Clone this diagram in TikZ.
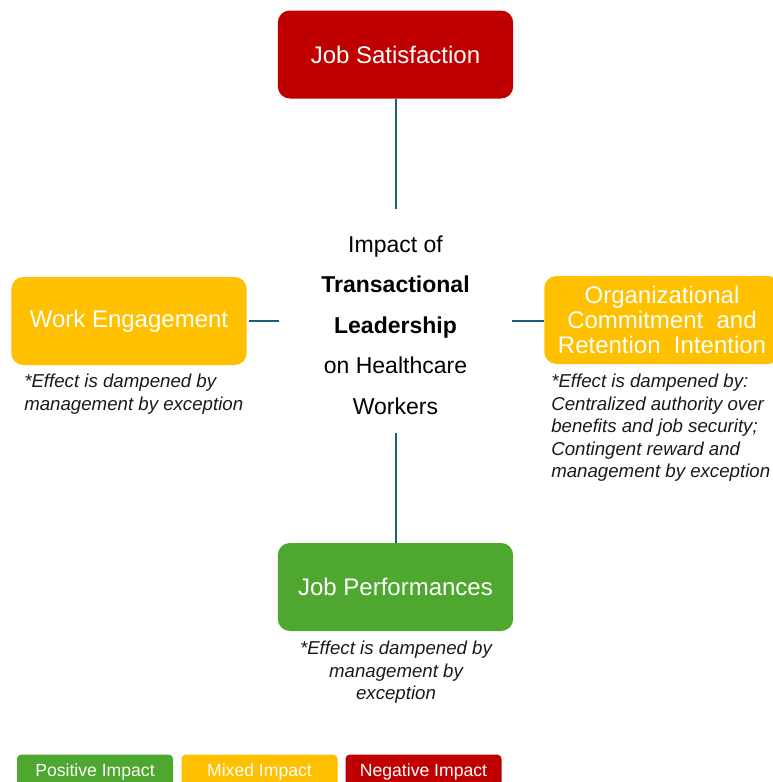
\documentclass[tikz,border=0pt]{standalone}
\usepackage{fontspec}
\setmainfont{Liberation Sans}
\definecolor{negred}{HTML}{C00000}
\definecolor{mixyellow}{HTML}{FFC000}
\definecolor{posgreen}{HTML}{4EA72E}
\definecolor{linkblue}{HTML}{1F5C7A}
\definecolor{notegray}{HTML}{1A1A1A}
\begin{document}
\begin{tikzpicture}[x=0.75pt,y=-0.75pt,
  box/.style={rounded corners=9pt, minimum width=176.5pt, minimum height=66pt,
    text=white, font=\fontsize{18}{19}\selectfont, align=center, inner sep=0pt},
  link/.style={draw=linkblue, line width=1.5pt},
  note/.style={font=\fontsize{14}{16.9}\selectfont\itshape, text=notegray, inner sep=0pt},
  legendbox/.style={rounded corners=3pt, minimum width=117pt, minimum height=26pt,
    text=white, font=\fontsize{13.2}{14}\selectfont, inner sep=0pt}]
\useasboundingbox (0,0) rectangle (773,782);
\clip (0,0) rectangle (773,782);

% outcome boxes
\node[box, fill=negred] (js) at (395.5,54.5) {Job Satisfaction};
\node[box, fill=mixyellow] (we) at (129,321) {Work Engagement};
\node[box, fill=mixyellow] (oc) at (662,320) {Organizational\\Commitment\ \ and\\Retention\ \ Intention};
\node[box, fill=posgreen] (jp) at (395.5,587) {Job Performances};

% central statement
\node[minimum width=174.75pt, minimum height=168pt, inner sep=0pt, align=center,
  font=\fontsize{17.25}{30.4}\selectfont] (hub) at (395.5,325)
  {Impact of\\\textbf{Transactional}\\\textbf{Leadership}\\on Healthcare\\Workers};

% connectors
\draw[link] (js.south) -- ([yshift=3pt]hub.north);
\draw[link] ([yshift=3pt]hub.south) -- (jp.north);
\draw[link] ([xshift=1.5pt]we.east) -- ([yshift=3pt]hub.west);
\draw[link] ([yshift=3pt]hub.east) -- (oc.west |- we.east);

% moderating notes
\node[note, anchor=north west, align=left] (wenote) at (24,374)
  {*Effect is dampened by\\management by exception};
\node[note, anchor=north west, align=left] (ocnote) at (551,374)
  {*Effect is dampened by:\\Centralized authority over\\benefits and job security;\\Contingent reward and\\management by exception};
\node[note, anchor=north, align=center] (jpnote) at (396,641)
  {*Effect is dampened by\\management by\\exception};

% legend
\node[legendbox, fill=posgreen] (lpos) at (95,772) {Positive Impact};
\node[legendbox, fill=mixyellow] (lmix) at (259.5,772) {Mixed Impact};
\node[legendbox, fill=negred] (lneg) at (423.5,772) {Negative Impact};
\end{tikzpicture}
\end{document}
